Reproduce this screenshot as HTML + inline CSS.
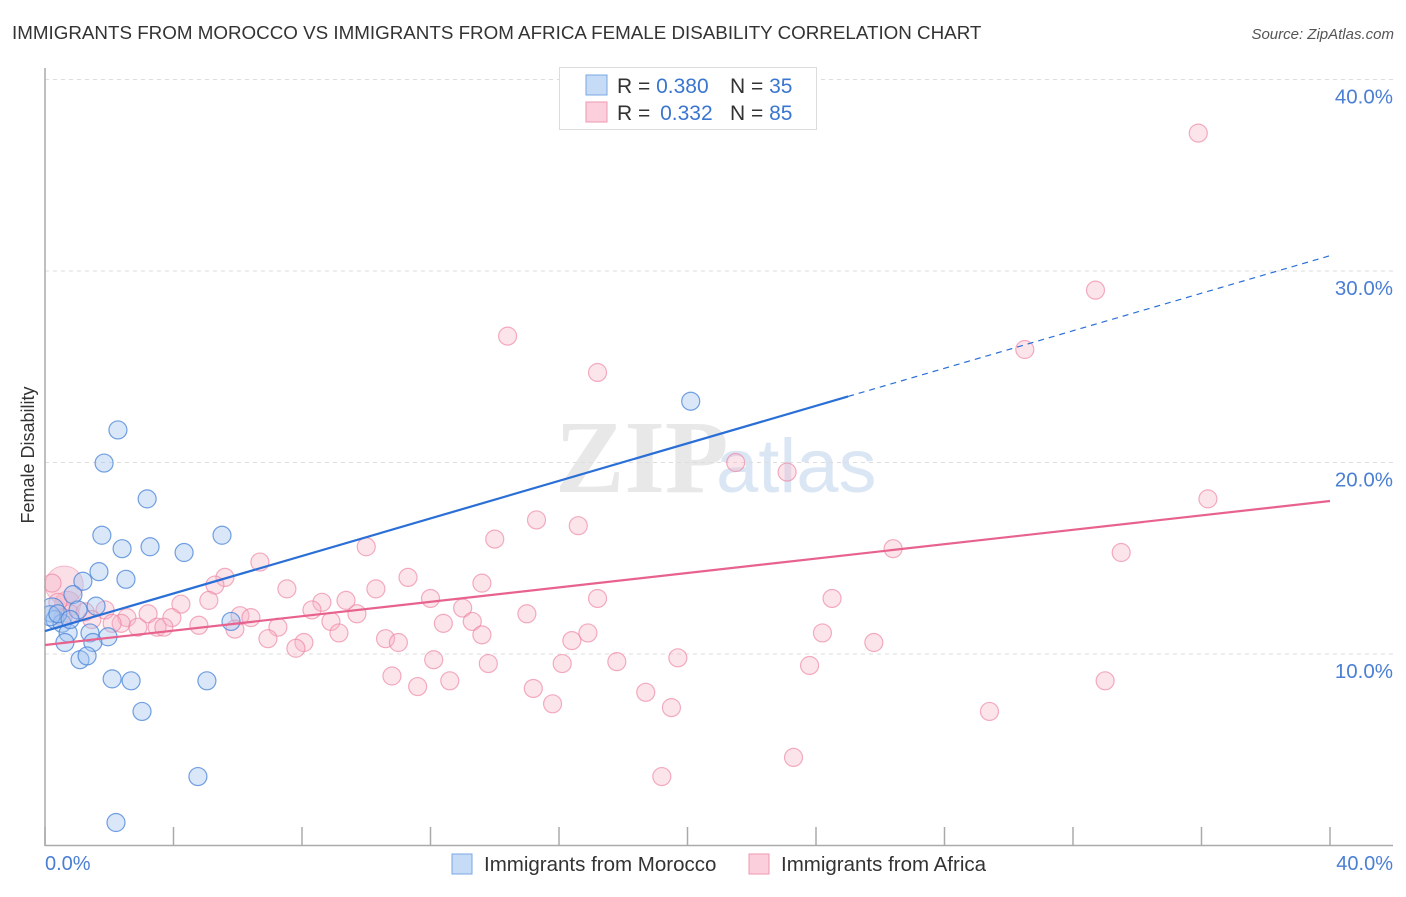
<!DOCTYPE html>
<html><head><meta charset="utf-8"><style>
body{margin:0;background:#fff;font-family:"Liberation Sans",sans-serif;}
</style></head><body>
<svg id="chart" width="1406" height="892" xmlns="http://www.w3.org/2000/svg">
<text x="12" y="39" font-size="18.8" fill="#333">IMMIGRANTS FROM MOROCCO VS IMMIGRANTS FROM AFRICA FEMALE DISABILITY CORRELATION CHART</text>
<text x="1394" y="39" font-size="15" fill="#555" font-style="italic" text-anchor="end">Source: ZipAtlas.com</text>
<text x="555" y="492" font-size="104" fill="#e8e8e8" font-family="Liberation Serif,serif" font-weight="bold">ZIP</text>
<text x="716" y="492" font-size="76" fill="#dbe6f5">atlas</text>
<g id="grid"></g>
<g id="pts"></g>
<rect x="0" y="60" width="44" height="790" fill="#fff"/>
<g id="axes"></g>
<g id="trend"></g>
<text transform="translate(34,455) rotate(-90)" font-size="18" fill="#333" text-anchor="middle">Female Disability</text>
<text x="45" y="870" font-size="20" fill="#4a7fd4">0.0%</text>
<text x="1393" y="870" font-size="20" fill="#4a7fd4" text-anchor="end">40.0%</text>
<g>
<rect x="559.5" y="67.5" width="257" height="62" fill="#fff" stroke="#ddd"/>
<rect x="586" y="75" width="21" height="20" fill="#c5dbf6" stroke="#7aa7e3"/>
<rect x="586" y="102" width="21" height="20" fill="#fbd0dc" stroke="#ef98b1"/>
<text x="617" y="93" font-size="21" fill="#333">R = <tspan fill="#3a76d0">0.380</tspan></text>
<text x="730" y="93" font-size="21" fill="#333">N = <tspan fill="#3a76d0">35</tspan></text>
<text x="617" y="120" font-size="21" fill="#333">R = <tspan fill="#3a76d0" dx="4">0.332</tspan></text>
<text x="730" y="120" font-size="21" fill="#333">N = <tspan fill="#3a76d0">85</tspan></text>
</g>
<g>
<rect x="452" y="854" width="20" height="20" fill="#c5dbf6" stroke="#7aa7e3"/>
<text x="484" y="871" font-size="20.5" fill="#333">Immigrants from Morocco</text>
<rect x="749" y="854" width="20" height="20" fill="#fbd0dc" stroke="#ef98b1"/>
<text x="781" y="871" font-size="20.5" fill="#333">Immigrants from Africa</text>
</g>
</svg>
<script>
const yTicks=[10,20,30,40];
const yTickLabels=["10.0%","20.0%","30.0%","40.0%"];
const xTicks=[0,4,8,12,16,20,24,28,32,36,40];
const moroccoX=[2.27,1.84,3.18,1.77,2.40,3.27,4.33,5.51,1.68,2.52,1.18,0.87,1.59,1.03,0.22,0.31,0.53,0.72,1.40,1.96,0.62,1.49,1.09,1.31,2.09,2.68,5.04,3.02,4.76,2.21,5.79,20.1,0.16,0.40,0.78];
const moroccoY=[21.7,19.97,18.1,16.2,15.5,15.6,15.3,16.2,14.3,13.9,13.8,13.1,12.5,12.3,12.3,11.8,11.6,11.1,11.1,10.9,10.6,10.6,9.7,9.9,8.7,8.6,8.6,7.0,3.6,1.2,11.7,23.2,12.0,12.1,11.8];
const moroccoSize=[9,9,9,9,9,9,9,9,9,9,9,9,9,9,12,9,9,9,9,9,9,9,9,9,9,9,9,9,9,9,9,9,10,9,9];
const africaX=[35.9,32.7,30.5,14.4,17.2,21.5,23.1,36.2,15.3,16.6,14.0,10.0,26.4,33.5,6.69,5.60,11.3,5.29,7.53,10.3,13.6,17.2,12.0,24.5,4.23,5.1,8.62,9.37,13.0,8.31,3.21,6.07,6.41,9.71,15.0,1.87,2.55,3.95,8.90,12.4,13.3,4.79,5.91,7.25,9.15,2.37,2.89,3.49,3.70,16.9,24.2,13.6,10.6,6.94,11.0,16.4,8.06,7.81,25.8,12.1,19.7,17.8,13.8,16.1,23.8,10.8,12.6,11.6,33.0,15.2,18.7,15.8,19.5,29.4,23.3,19.2,0.22,0.40,0.78,1.25,1.46,0.56,2.09];
const africaY=[37.2,29.0,25.9,26.6,24.7,20.0,19.5,18.1,17.0,16.7,16.0,15.6,15.5,15.3,14.8,14.0,14.0,13.6,13.4,13.4,13.7,12.9,12.9,12.9,12.6,12.8,12.7,12.8,12.4,12.3,12.1,12.0,11.9,12.1,12.1,12.3,11.9,11.9,11.7,11.6,11.7,11.5,11.3,11.4,11.1,11.6,11.4,11.4,11.4,11.1,11.1,11.0,10.8,10.8,10.6,10.7,10.6,10.3,10.6,9.7,9.8,9.6,9.5,9.5,9.4,8.85,8.6,8.3,8.6,8.2,8.0,7.4,7.2,7.0,4.6,3.6,13.7,12.7,12.1,12.2,11.8,11.9,11.6];
const africaBig=[[0.6,13.6,19],[0.7,12.6,13]];
const moroccoTrend=[11.2,30.8];
const moroccoSolidEnd=25;
const africaTrend=[10.47,17.99];

const X0=45,X1=1330,Y0=845.5,YPX=19.15;
const sx=v=>X0+v*(X1-X0)/40;
const sy=v=>Y0-v*YPX;
const NS="http://www.w3.org/2000/svg";
function mk(tag,attrs,parent){const e=document.createElementNS(NS,tag);for(const k in attrs)e.setAttribute(k,attrs[k]);parent.appendChild(e);return e;}
const grid=document.getElementById('grid'),axes=document.getElementById('axes'),pts=document.getElementById('pts'),trend=document.getElementById('trend');
yTicks.forEach((t,i)=>{
 const l=mk('line',{x1:45,x2:1393,y1:sy(t),y2:sy(t),stroke:'#ddd','stroke-dasharray':'4,4'},grid);
 
 
 const tx=mk('text',{x:1393,y:sy(t)+24,'font-size':20.5,fill:'#4a7fd4','text-anchor':'end'},grid);
 tx.textContent=yTickLabels[i];
 
 
});
const ya=mk('line',{x1:45,x2:45,y1:68,y2:846,stroke:'#aaa','stroke-width':1.5},axes);


const xa=mk('line',{x1:45,x2:1393,y1:845.5,y2:845.5,stroke:'#aaa','stroke-width':1.5},axes);


xTicks.forEach(t=>{
 const l=mk('line',{x1:sx(t),x2:sx(t),y1:827,y2:846,stroke:'#aaa','stroke-width':1.5},axes);
 
 
});
africaBig.forEach(p=>{
 const c=mk('circle',{cx:sx(p[0]),cy:sy(p[1]),r:p[2],fill:'rgba(244,163,187,0.35)',stroke:'rgba(236,130,160,0.5)'},pts);
 
 
});
africaX.forEach((x,i)=>{
 const c=mk('circle',{cx:sx(x),cy:sy(africaY[i]),r:9,fill:'rgba(246,178,199,0.35)',stroke:'rgba(236,130,160,0.65)','stroke-width':1.2},pts);
 
 
});
moroccoX.forEach((x,i)=>{
 const c=mk('circle',{cx:sx(x),cy:sy(moroccoY[i]),r:moroccoSize[i],fill:'rgba(160,196,240,0.4)',stroke:'rgba(70,130,215,0.75)','stroke-width':1.2},pts);
 
 
});
const mAt=x=>moroccoTrend[0]+(moroccoTrend[1]-moroccoTrend[0])*x/40;
const bt=mk('line',{x1:sx(0),y1:sy(mAt(0)),x2:sx(moroccoSolidEnd),y2:sy(mAt(moroccoSolidEnd)),stroke:'#2a6fd6','stroke-width':2.2},trend);


const bd=mk('line',{x1:sx(moroccoSolidEnd),y1:sy(mAt(moroccoSolidEnd)),x2:sx(40),y2:sy(mAt(40)),stroke:'#2a6fd6','stroke-width':1.2,'stroke-dasharray':'6,5'},trend);


const pt=mk('line',{x1:sx(0),y1:sy(africaTrend[0]),x2:sx(40),y2:sy(africaTrend[1]),stroke:'#e8628e','stroke-width':2.2},trend);


</script>
</body></html>
